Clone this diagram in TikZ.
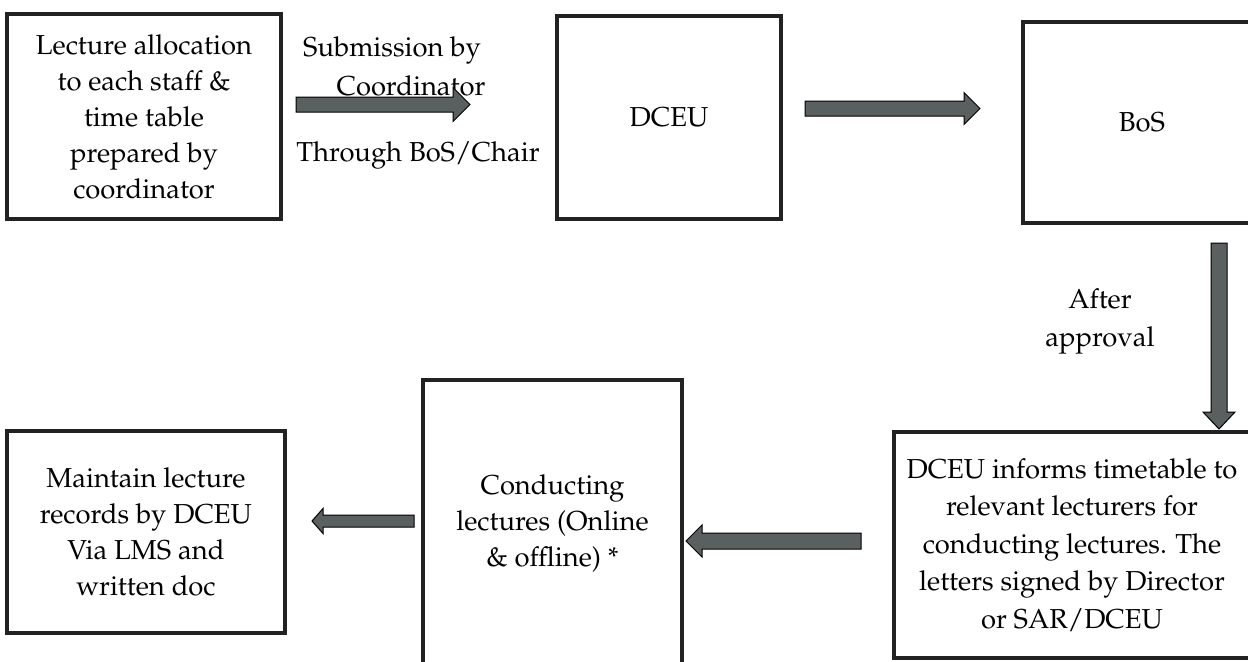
\documentclass[tikz,border=0pt]{standalone}
\usepackage[T1]{fontenc}
\usepackage{mathpazo}
\usetikzlibrary{calc}

\definecolor{arrowgray}{HTML}{5A605F}
\definecolor{boxline}{HTML}{222222}

\tikzset{
  box/.style={draw=boxline, line width=1.7pt, align=center, inner sep=0pt,
    font=\fontsize{13.7}{18}\selectfont},
  lbl/.style={align=center, inner sep=0pt, font=\fontsize{13.7}{19}\selectfont},
  % block arrow: shaft half width, head half width, head length
  blockarrow/.style n args={3}{draw=black, line width=0.5pt, fill=arrowgray,
    to path={let \p1=($(\tikztotarget)!#3!(\tikztostart)$) in
      ($(\tikztostart)!#1!90:(\tikztotarget)$) -- ($(\p1)!#1!90:(\tikztotarget)$)
      -- ($(\p1)!#2!90:(\tikztotarget)$) -- (\tikztotarget)
      -- ($(\p1)!#2!-90:(\tikztotarget)$) -- ($(\p1)!#1!-90:(\tikztotarget)$)
      -- ($(\tikztostart)!#1!-90:(\tikztotarget)$) -- cycle}}
}

\begin{document}
\begin{tikzpicture}[x=0.5pt, y=-0.5pt]

\useasboundingbox (0,0) rectangle (1248,661);

% top row
\node[box, minimum width=137pt, minimum height=102.5pt] (alloc) at (144,116.5)
  {Lecture allocation\\to each staff \&\\time table\\prepared by\\coordinator};
\node[box, minimum width=112pt, minimum height=101.5pt] (dceu) at (669,117.5) {DCEU};
\node[box, minimum width=119pt, minimum height=100.5pt] (bos) at (1142,122.5) {BoS};

% bottom row
\node[box, minimum width=178pt, minimum height=113pt,
  font=\fontsize{13.7}{18.7}\selectfont] (inform) at (1072,545)
  {DCEU informs timetable to\\relevant lecturers for\\conducting lectures. The\\letters signed by Director\\or SAR/DCEU};
\node[box, minimum width=129.5pt, minimum height=143pt] (conduct) at (552.5,523)
  {Conducting\\lectures (Online\\\& offline) *};
\node[box, minimum width=139pt, minimum height=101pt] (records) at (146,532)
  {Maintain lecture\\records by DCEU\\Via LMS and\\written doc};

% labels
\node[lbl] (submit) at (392,50) {Submission by};
\node[lbl] (coord) at (411,86) {Coordinator};
\node[lbl] (through) at (418,155) {Through BoS/Chair};
\node[lbl] (approval) at (1100,321) {After\\approval};

% arrow ends
\coordinate (a1s) at (296,104.5);
\coordinate (a1e) at (470,104.5);
\coordinate (a2s) at (805,108.5);
\coordinate (a2e) at (980,108.5);
\coordinate (a3s) at (1219,243);
\coordinate (a3e) at (1219,429);
\coordinate (a4s) at (861,541);
\coordinate (a4e) at (686,541);
\coordinate (a5s) at (414,521);
\coordinate (a5e) at (312,521);

% arrows
\draw[blockarrow={3.75pt}{8.5pt}{8.5pt}] (a1s) to (a1e);
\draw[blockarrow={3.75pt}{8pt}{8pt}] (a2s) to (a2e);
\draw[blockarrow={4pt}{8pt}{8.5pt}] (a3s) to (a3e);
\draw[blockarrow={4pt}{8pt}{8pt}] (a4s) to (a4e);
\draw[blockarrow={3pt}{6.25pt}{5.5pt}] (a5s) to (a5e);

\end{tikzpicture}
\end{document}
